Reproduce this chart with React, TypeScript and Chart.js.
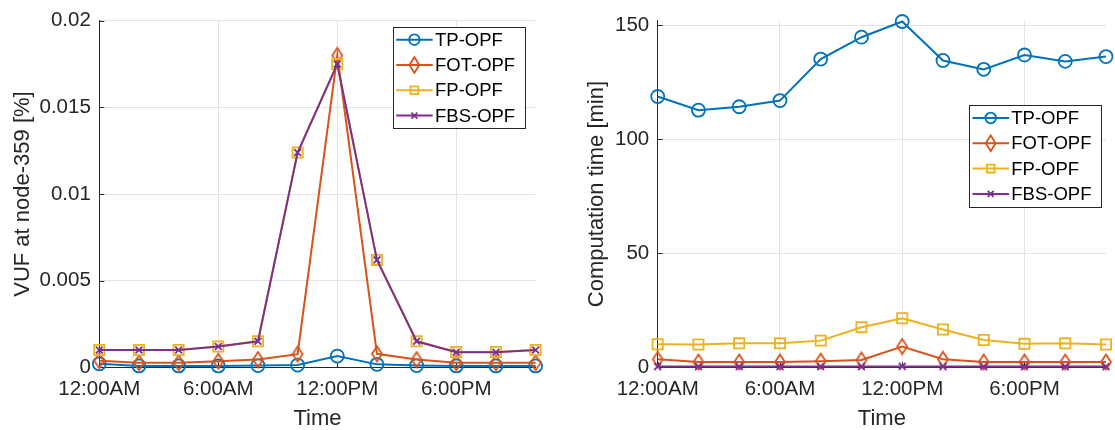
import React, { useEffect, useRef } from 'react';
import { Chart, registerables } from 'chart.js';

Chart.register(...registerables);

// ---------- data ----------
const hours = [0, 2, 4, 6, 8, 10, 12, 14, 16, 18, 20, 22];
const seriesNames = ['TP-OPF', 'FOT-OPF', 'FP-OPF', 'FBS-OPF'];

const vufTP = [0.0002, 0.00008, 0.00008, 0.00008, 0.0001, 0.00013, 0.00065, 0.00017, 0.0001, 0.00008, 0.00008, 0.00008];
const vufFOT = [0.00038, 0.00026, 0.00026, 0.00035, 0.00045, 0.00076, 0.018, 0.00078, 0.00045, 0.00026, 0.00026, 0.00026];
const vufFP = [0.001, 0.001, 0.001, 0.0012, 0.0015, 0.0124, 0.0175, 0.0062, 0.0015, 0.00088, 0.00088, 0.001];
const vufFBS = [0.001, 0.001, 0.001, 0.0012, 0.0015, 0.0124, 0.0175, 0.0062, 0.0015, 0.00087, 0.00087, 0.001];

const timeTP = [118.8, 112.8, 114.3, 117, 135.2, 144.8, 151.7, 134.6, 130.7, 137, 134.2, 136.3];
const timeFOT = [3.5, 2.3, 2.3, 2.3, 2.7, 3.2, 9.1, 3.5, 2.3, 2.3, 2.3, 2.3];
const timeFP = [10.1, 10, 10.5, 10.5, 11.7, 17.6, 21.5, 16.6, 12, 10.3, 10.5, 10];
const timeFBS = [0.3, 0.3, 0.3, 0.3, 0.3, 0.3, 0.4, 0.3, 0.3, 0.3, 0.3, 0.3];

const xTickHours = [0, 6, 12, 18];
const xTickLabels = ['12:00AM', '6:00AM', '12:00PM', '6:00PM'];
const vufTicks = [0, 0.005, 0.01, 0.015, 0.02];
const timeTicks = [0, 50, 100, 150];

const xTitle = 'Time';
const vufTitle = 'VUF at node-359 [%]';
const timeTitle = 'Computation time [min]';

// ---------- styles ----------
const COLORS = ['#0072BD', '#D95319', '#EDB120', '#7E2F8E'];
const MARKERS = ['circle', 'diamond', 'square', 'x'];
const FONT = '"Liberation Sans", Arial, Helvetica, sans-serif';
const AXIS = '#262626';
const GRID = '#e3e3e3';

function makeDiamond(color: string): HTMLCanvasElement {
  const c = document.createElement('canvas');
  c.width = 14;
  c.height = 18;
  const ctx = c.getContext('2d')!;
  ctx.strokeStyle = color;
  ctx.lineWidth = 1.8;
  ctx.beginPath();
  ctx.moveTo(7, 1.5);
  ctx.lineTo(12, 9);
  ctx.lineTo(7, 16.5);
  ctx.lineTo(2, 9);
  ctx.closePath();
  ctx.stroke();
  return c;
}

function drawLegendMarker(ctx: CanvasRenderingContext2D, kind: string, cx: number, cy: number, color: string) {
  ctx.save();
  ctx.strokeStyle = color;
  ctx.lineWidth = 1.8;
  ctx.beginPath();
  if (kind === 'circle') {
    ctx.arc(cx, cy, 5.3, 0, Math.PI * 2);
  } else if (kind === 'diamond') {
    ctx.moveTo(cx, cy - 7.8);
    ctx.lineTo(cx + 5, cy);
    ctx.lineTo(cx, cy + 7.8);
    ctx.lineTo(cx - 5, cy);
    ctx.closePath();
  } else if (kind === 'square') {
    ctx.rect(cx - 3.9, cy - 3.9, 7.8, 7.8);
  } else {
    ctx.moveTo(cx - 3, cy - 3);
    ctx.lineTo(cx + 3, cy + 3);
    ctx.moveTo(cx + 3, cy - 3);
    ctx.lineTo(cx - 3, cy + 3);
  }
  ctx.stroke();
  ctx.restore();
}

const matlabPlugin = {
  id: 'matlabLook',
  beforeDatasetsDraw(chart: any) {
    const ctx = chart.ctx as CanvasRenderingContext2D;
    const { left, bottom } = chart.chartArea;
    ctx.save();
    ctx.strokeStyle = AXIS;
    ctx.lineWidth = 1;
    const xs = chart.scales.x;
    xs.ticks.forEach((t: any) => {
      const px = Math.round(xs.getPixelForValue(t.value)) + 0.5;
      ctx.beginPath();
      ctx.moveTo(px, bottom);
      ctx.lineTo(px, bottom - 5);
      ctx.stroke();
    });
    const ys = chart.scales.y;
    ys.ticks.forEach((t: any) => {
      const py = Math.round(ys.getPixelForValue(t.value)) + 0.5;
      ctx.beginPath();
      ctx.moveTo(left, py);
      ctx.lineTo(left + 5, py);
      ctx.stroke();
    });
    ctx.restore();
  },
  afterDraw(chart: any, _args: any, opts: any) {
    if (!opts || opts.x === undefined) return;
    const ctx = chart.ctx as CanvasRenderingContext2D;
    const { x, y, w, h } = opts;
    ctx.save();
    ctx.fillStyle = '#ffffff';
    ctx.fillRect(x, y, w, h);
    ctx.strokeStyle = AXIS;
    ctx.lineWidth = 1;
    ctx.strokeRect(Math.round(x) + 0.5, Math.round(y) + 0.5, Math.round(w), Math.round(h));
    chart.data.datasets.forEach((ds: any, i: number) => {
      const cy = y + 13 + i * 25.3;
      ctx.strokeStyle = ds.borderColor;
      ctx.lineWidth = 2;
      ctx.beginPath();
      ctx.moveTo(x + 3.5, cy);
      ctx.lineTo(x + 40, cy);
      ctx.stroke();
      drawLegendMarker(ctx, ds.markerKind, x + 21.7, cy, ds.borderColor);
      ctx.fillStyle = '#000000';
      ctx.font = `18.5px ${FONT}`;
      ctx.textBaseline = 'middle';
      ctx.textAlign = 'left';
      ctx.fillText(ds.label, x + 42.3, cy + 1);
    });
    ctx.restore();
  },
};

function buildDatasets(values: number[][]) {
  return values.map((vals, i) => {
    const kind = MARKERS[i];
    let pointStyle: any = 'circle';
    let radius = 6.5;
    if (kind === 'diamond') { pointStyle = makeDiamond(COLORS[i]); radius = 7; }
    if (kind === 'square') { pointStyle = 'rect'; radius = 7.2; }
    if (kind === 'x') { pointStyle = 'crossRot'; radius = 4.8; }
    return {
      label: seriesNames[i],
      markerKind: kind,
      data: hours.map((hh, j) => ({ x: hh, y: vals[j] })),
      borderColor: COLORS[i],
      backgroundColor: 'transparent',
      borderWidth: 2,
      pointStyle,
      pointRadius: radius,
      pointHoverRadius: radius,
      pointBorderColor: COLORS[i],
      pointBackgroundColor: 'transparent',
      pointBorderWidth: 1.8,
      tension: 0,
      clip: false,
      order: 4 - i,
    };
  });
}

interface Cfg {
  values: number[][];
  yMax: number;
  yTicks: number[];
  yTitle: string;
  yWidth: number;
  yTitlePad: number;
  padRight: number;
  legend: { x: number; y: number; w: number; h: number };
}

function makeChart(canvas: HTMLCanvasElement, cfg: Cfg) {
  const tickFont = { family: FONT, size: 20.5 };
  const titleFont = { family: FONT, size: 22 };
  return new Chart(canvas, {
    type: 'line',
    data: { datasets: buildDatasets(cfg.values) as any },
    plugins: [matlabPlugin as any],
    options: {
      responsive: false,
      animation: false,
      events: [],
      layout: { padding: { left: 0, top: 16, right: cfg.padRight, bottom: 0 } },
      plugins: {
        legend: { display: false },
        tooltip: { enabled: false },
        matlabLook: cfg.legend,
      } as any,
      scales: {
        x: {
          type: 'linear',
          min: 0,
          max: 22,
          afterBuildTicks: (s: any) => { s.ticks = xTickHours.map((v) => ({ value: v })); },
          afterFit: (s: any) => { s.height = 62.7; },
          ticks: {
            autoSkip: false,
            maxRotation: 0,
            padding: 10,
            color: AXIS,
            font: tickFont,
            callback: (v: any) => {
              const k = xTickHours.indexOf(Number(v));
              return k >= 0 ? xTickLabels[k] : '';
            },
          },
          grid: { color: GRID, lineWidth: 1, drawTicks: false },
          border: { display: true, color: AXIS, width: 1 },
          title: { display: true, text: xTitle, color: AXIS, font: titleFont, padding: { top: 0, bottom: -2.2 } },
        },
        y: {
          type: 'linear',
          min: 0,
          max: cfg.yMax,
          afterBuildTicks: (s: any) => { s.ticks = cfg.yTicks.map((v) => ({ value: v })); },
          afterFit: (s: any) => { s.width = cfg.yWidth; },
          ticks: {
            padding: 8.5,
            color: AXIS,
            font: tickFont,
            callback: (v: any) => String(+Number(v).toFixed(5)),
          },
          grid: { color: GRID, lineWidth: 1, drawTicks: false },
          border: { display: true, color: AXIS, width: 1 },
          title: { display: true, text: cfg.yTitle, color: AXIS, font: titleFont, padding: { top: cfg.yTitlePad, bottom: 0 } },
        },
      },
    } as any,
  });
}

export default function App() {
  const leftRef = useRef<HTMLCanvasElement>(null);
  const rightRef = useRef<HTMLCanvasElement>(null);

  useEffect(() => {
    const c1 = makeChart(leftRef.current!, {
      values: [vufTP, vufFOT, vufFP, vufFBS],
      yMax: 0.02,
      yTicks: vufTicks,
      yTitle: vufTitle,
      yWidth: 99.3,
      yTitlePad: 9.3,
      padRight: 557 - 535.6,
      legend: { x: 392.7, y: 26.7, w: 131.6, h: 101 },
    });
    const c2 = makeChart(rightRef.current!, {
      values: [timeTP, timeFOT, timeFP, timeFBS],
      yMax: 152,
      yTicks: timeTicks,
      yTitle: timeTitle,
      yWidth: 100.7,
      yTitlePad: 26.8,
      padRight: 558 - (1110 - 557),
      legend: { x: 969 - 557, y: 105, w: 131.7, h: 101.7 },
    });
    return () => {
      c1.destroy();
      c2.destroy();
    };
  }, []);

  return (
    <div style={{ position: 'fixed', left: 0, top: 0, width: 1115, height: 430, background: '#ffffff', overflow: 'hidden' }}>
      <canvas ref={leftRef} width={557} height={430} style={{ position: 'absolute', left: 0, top: 0, width: 557, height: 430 }} />
      <canvas ref={rightRef} width={558} height={430} style={{ position: 'absolute', left: 557, top: 0, width: 558, height: 430 }} />
    </div>
  );
}
